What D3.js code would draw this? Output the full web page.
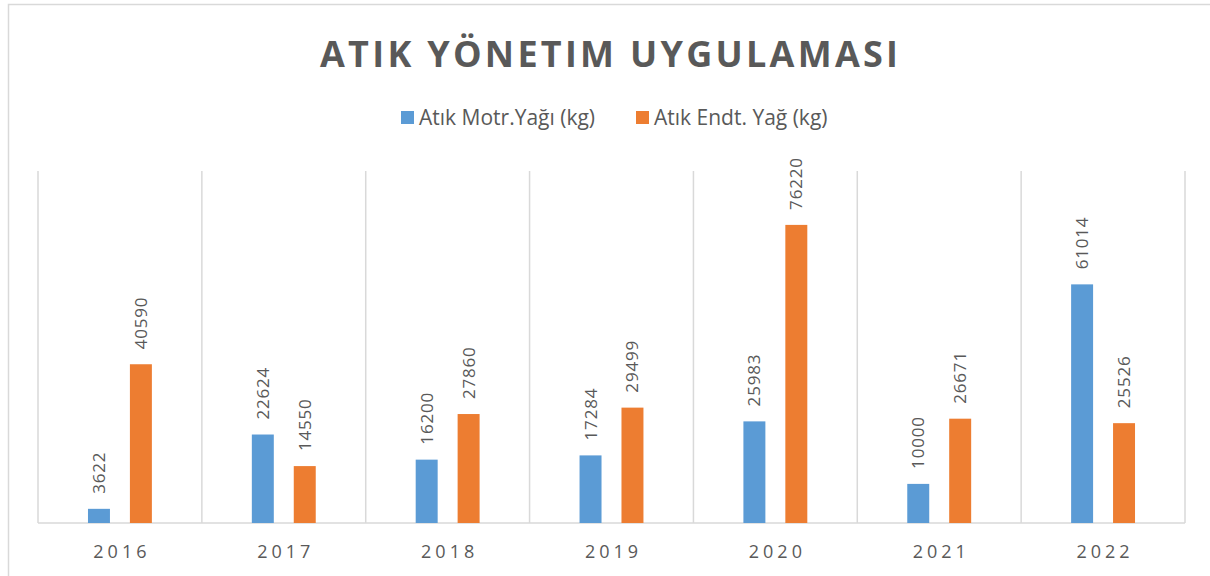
<!DOCTYPE html>
<html>
<head>
<meta charset="utf-8">
<script src="https://cdn.jsdelivr.net/npm/d3@7"></script>
<style>
  body { margin: 0; background: #fff; }
  svg { display: block; font-family: "Open Sans", "Noto Sans", sans-serif; }
</style>
</head>
<body>
<div id="vis"></div>
<script>
// data
var years = ["2016", "2017", "2018", "2019", "2020", "2021", "2022"];
var seriesNames = ["Atık Motr.Yağı (kg)", "Atık Endt. Yağ (kg)"];
var motorOil = [3622, 22624, 16200, 17284, 25983, 10000, 61014];
var endtOil = [40590, 14550, 27860, 29499, 76220, 26671, 25526];
var colors = ["#5b9bd5", "#ed7d31"];

var width = 1210, height = 576;
var plot = {left: 38, right: 1185, top: 171, bottom: 523};

var svg = d3.select("#vis").append("svg")
  .attr("width", width)
  .attr("height", height);

// outer frame of the chart (only top and left are in view)
svg.append("path")
  .attr("d", "M8.5," + height + "V4.5H" + width)
  .attr("fill", "none")
  .attr("stroke", "#d9d9d9")
  .attr("stroke-width", 1.5);

// title
svg.append("text")
  .attr("x", 320).attr("y", 67)
  .attr("textLength", 578)
  .attr("lengthAdjust", "spacing")
  .attr("font-size", 36)
  .attr("font-weight", "bold")
  .attr("fill", "#595959")
  .text("ATIK YÖNETIM UYGULAMASI");

// legend
var legendX = [401, 636];
seriesNames.forEach(function(name, i) {
  svg.append("rect")
    .attr("x", legendX[i]).attr("y", 111)
    .attr("width", 13).attr("height", 13)
    .attr("fill", colors[i]);
  svg.append("text")
    .attr("x", legendX[i] + 18).attr("y", 125)
    .attr("font-size", 21)
    .attr("fill", "#595959")
    .text(name);
});

var x0 = d3.scaleBand()
  .domain(years)
  .range([plot.left, plot.right])
  .padding(0);

var x1 = d3.scaleBand()
  .domain(d3.range(seriesNames.length))
  .range([x0.bandwidth() * 0.305, x0.bandwidth() * 0.695])
  .paddingInner(0.476)
  .paddingOuter(0);

var y = d3.scaleLinear()
  .domain([0, 90000])
  .range([plot.bottom, plot.top]);

// vertical grid lines at category boundaries
var bounds = years.map(function(d) { return x0(d); }).concat([plot.right]);
svg.append("g").selectAll("line")
  .data(bounds)
  .enter().append("line")
  .attr("x1", function(d) { return d; })
  .attr("x2", function(d) { return d; })
  .attr("y1", plot.top)
  .attr("y2", plot.bottom)
  .attr("stroke", "#d9d9d9")
  .attr("stroke-width", 1.5);

// baseline
svg.append("line")
  .attr("x1", plot.left).attr("x2", plot.right)
  .attr("y1", y(0)).attr("y2", y(0))
  .attr("stroke", "#d9d9d9")
  .attr("stroke-width", 1.5);

var rows = years.map(function(yr, i) {
  return {year: yr, values: [motorOil[i], endtOil[i]]};
});

var groups = svg.append("g").selectAll("g")
  .data(rows)
  .enter().append("g")
  .attr("transform", function(d) { return "translate(" + x0(d.year) + ",0)"; });

groups.selectAll("rect")
  .data(function(d) { return d.values.map(function(v, s) { return {s: s, v: v}; }); })
  .enter().append("rect")
  .attr("x", function(d) { return x1(d.s); })
  .attr("width", x1.bandwidth())
  .attr("y", function(d) { return y(d.v); })
  .attr("height", function(d) { return y(0) - y(d.v); })
  .attr("fill", function(d) { return colors[d.s]; });

// rotated value labels
groups.selectAll("text.val")
  .data(function(d) { return d.values.map(function(v, s) { return {s: s, v: v}; }); })
  .enter().append("text")
  .attr("class", "val")
  .attr("transform", function(d) {
    var cx = x1(d.s) + x1.bandwidth() / 2 + 6;
    return "translate(" + cx + "," + (y(d.v) - 15) + ") rotate(-90)";
  })
  .attr("font-size", 17)
  .attr("letter-spacing", 0.8)
  .attr("fill", "#595959")
  .text(function(d) { return d.v; });

// category labels
svg.append("g").selectAll("text")
  .data(years)
  .enter().append("text")
  .attr("x", function(d) { return x0(d) + x0.bandwidth() / 2 + 2; })
  .attr("y", 558)
  .attr("text-anchor", "middle")
  .attr("font-size", 18)
  .attr("letter-spacing", 4)
  .attr("fill", "#595959")
  .text(function(d) { return d; });
</script>
</body>
</html>
